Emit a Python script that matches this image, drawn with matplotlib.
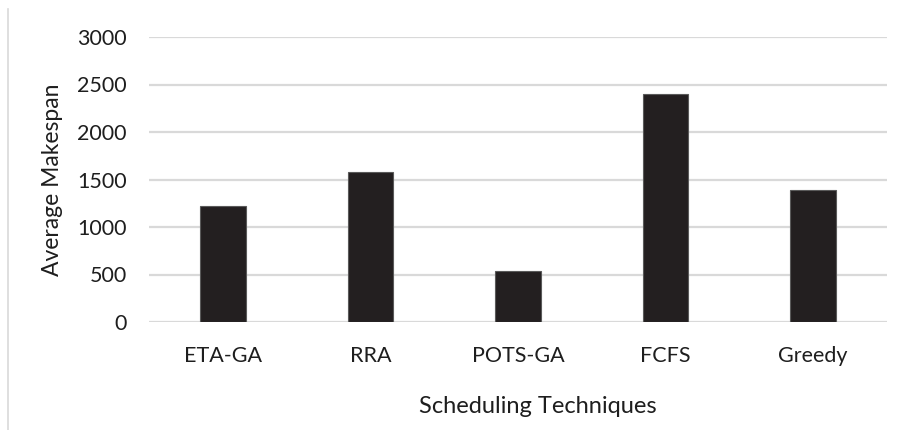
import matplotlib.pyplot as plt
from matplotlib.lines import Line2D

# Average makespan for each scheduling technique
techniques = ["ETA-GA", "RRA", "POTS-GA", "FCFS", "Greedy"]
makespan = [1222, 1577, 542, 2403, 1385]
yticks = [0, 500, 1000, 1500, 2000, 2500, 3000]

plt.rcParams['font.family'] = ['Lato', 'DejaVu Sans']
text_color = '#1e1e1e'

fig = plt.figure(figsize=(9.02, 4.30), dpi=100)
ax = fig.add_axes([149 / 902, 1 - 322 / 430, (887 - 149) / 902, (322 - 37) / 430])

x = range(len(techniques))
ax.bar(x, makespan, width=0.31, color='#231f20', edgecolor='#5a5a5a',
       linewidth=0.8, zorder=3)

ax.set_xlim(-0.5, len(techniques) - 0.5)
ax.set_ylim(0, 3000)
ax.set_yticks(yticks)
ax.set_yticklabels([str(v) for v in yticks])
ax.set_xticks(list(x))
ax.set_xticklabels(techniques)

ax.yaxis.grid(True, color='#d9d9d9', linewidth=1.6, zorder=0)
ax.set_axisbelow(True)
for side in ['top', 'right', 'left', 'bottom']:
    ax.spines[side].set_visible(False)
ax.tick_params(axis='both', length=0, labelsize=15.5, colors=text_color)
ax.tick_params(axis='y', pad=16)
ax.tick_params(axis='x', pad=17)

ax.set_ylabel("Average Makespan", fontsize=16.5, color=text_color, labelpad=10)
ax.set_xlabel("Scheduling Techniques", fontsize=17, color=text_color, labelpad=22)
# the axis title sits a little right of the plot centre
ax.xaxis.label.set_x(0.527)

# thin border line at the left of the chart area
fig.add_artist(Line2D([8 / 902, 8 / 902], [0, 1 - 9 / 430],
                      transform=fig.transFigure, color='#d9d9d9', linewidth=1.2))

fig.savefig("out.png", dpi=100)
